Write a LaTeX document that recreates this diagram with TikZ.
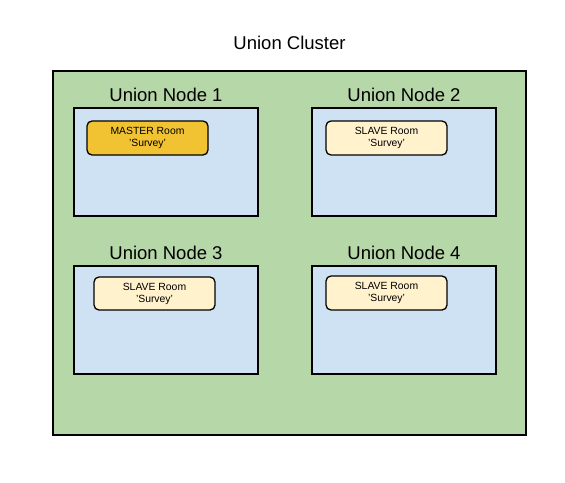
\documentclass[tikz,border=0pt]{standalone}
\usepackage{fontspec}
\setmainfont{Liberation Sans}
\definecolor{clustergreen}{HTML}{B6D7A8}
\definecolor{nodeblue}{HTML}{CFE2F3}
\definecolor{masteryellow}{HTML}{F1C232}
\definecolor{slavecream}{HTML}{FFF2CC}
\tikzset{
  cluster/.style={draw=black, line width=1.5pt, fill=clustergreen},
  unode/.style={draw=black, line width=1.5pt, fill=nodeblue},
  room/.style={draw=black, line width=1.3pt, rounded corners=5pt, align=center,
    font=\fontsize{10.4}{12}\selectfont, inner sep=0pt},
  master/.style={room, fill=masteryellow},
  slave/.style={room, fill=slavecream},
  ulabel/.style={font=\fontsize{18.5}{21}\selectfont, inner sep=0pt, anchor=base},
}
\begin{document}
\begin{tikzpicture}[x=1pt,y=-1pt]
\useasboundingbox (0,0) rectangle (565,482);
\fill[white] (0,0) rectangle (565,482);
\node[ulabel] (title) at (289.5,49) {Union Cluster};
\draw[cluster] (53,71) rectangle (526,435);
% Node 1
\draw[unode] (74,108) rectangle (258,216);
\node[ulabel] (l1) at (166,101) {Union Node 1};
\node[master, minimum width=121pt, minimum height=34pt] (r1) at (147.5,138) {MASTER Room\\'Survey'};
% Node 2
\draw[unode] (312,108) rectangle (496,216);
\node[ulabel] (l2) at (404,101) {Union Node 2};
\node[slave, minimum width=121pt, minimum height=34pt] (r2) at (386.5,138) {SLAVE Room\\'Survey'};
% Node 3
\draw[unode] (74,266) rectangle (258,374);
\node[ulabel] (l3) at (166,259) {Union Node 3};
\node[slave, minimum width=121pt, minimum height=33pt] (r3) at (154.5,293.5) {SLAVE Room\\'Survey'};
% Node 4
\draw[unode] (312,266) rectangle (496,374);
\node[ulabel] (l4) at (404,259) {Union Node 4};
\node[slave, minimum width=121pt, minimum height=34pt] (r4) at (386.5,293) {SLAVE Room\\'Survey'};
\end{tikzpicture}
\end{document}
